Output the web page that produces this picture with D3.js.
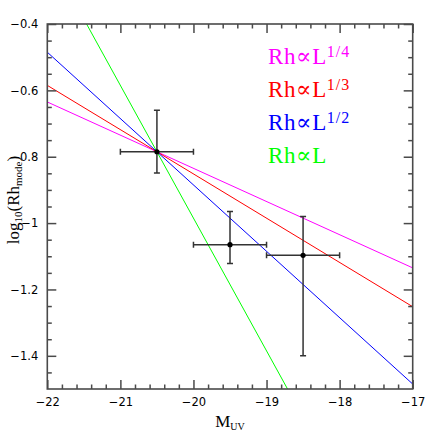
<!DOCTYPE html>
<html><head><meta charset="utf-8">
<script src="https://cdn.jsdelivr.net/npm/d3@7"></script>
<style>body{margin:0;background:#fff}svg{display:block}</style>
</head><body>
<svg id="c" width="436" height="436"></svg>
<script>
// data
const xTicks = [-22, -21, -20, -19, -18, -17];
const yTicks = [-1.4, -1.2, -1, -0.8, -0.6, -0.4];
const xMinorTicks = [-21.8, -21.6, -21.4, -21.2, -20.8, -20.6, -20.4, -20.2, -19.8, -19.6, -19.4, -19.2,
  -18.8, -18.6, -18.4, -18.2, -17.8, -17.6, -17.4, -17.2];
const yMinorTicks = [-1.45, -1.35, -1.3, -1.25, -1.15, -1.1, -1.05, -0.95, -0.9, -0.85, -0.75, -0.7,
  -0.65, -0.55, -0.5, -0.45];
const pointsX = [-20.5, -19.5, -18.5];
const pointsY = [-0.785, -1.065, -1.097];
const xErrLo = [0.5, 0.5, 0.5];
const xErrHi = [0.5, 0.5, 0.5];
const yErrUp = [0.125, 0.10, 0.117];
const yErrDown = [0.064, 0.057, 0.303];
const lineNames = ["1/4", "1/3", "1/2", ""];
const lineColors = ["#ff00ff", "#ff0000", "#0000ff", "#00ff00"];
const lineX = [-22, -17];
const lineYStart = [-0.635, -0.585, -0.485, -0.185];
const lineYEnd = [-1.135, -1.252, -1.485, -2.185];

const svg = d3.select("#c");
const L = 47.3, R = 412.7, T = 24, B = 389;
const x = d3.scaleLinear().domain([-22, -17]).range([L, R]);
const y = d3.scaleLinear().domain([-1.5, -0.4]).range([B, T]);
const axisColor = "#4a4a4a";
const fmt = v => String(v).replace("-", "\u2212");

svg.append("clipPath").attr("id", "plotclip").append("rect")
  .attr("x", L).attr("y", T).attr("width", R - L).attr("height", B - T);

// model lines
const lg = svg.append("g").attr("clip-path", "url(#plotclip)");
lineColors.forEach((c, i) => {
  lg.append("line")
    .attr("x1", x(lineX[0])).attr("y1", y(lineYStart[i]))
    .attr("x2", x(lineX[1])).attr("y2", y(lineYEnd[i]))
    .attr("stroke", c).attr("stroke-width", 1);
});

// frame
svg.append("rect").attr("x", L).attr("y", T).attr("width", R - L).attr("height", B - T)
  .attr("fill", "none").attr("stroke", axisColor).attr("stroke-width", 1.6);

// inward ticks on all four sides via d3 axes
function styleAxis(sel) {
  sel.select(".domain").remove();
  sel.selectAll(".tick line").attr("stroke", axisColor).attr("stroke-width", 1.5);
}
const ax = [
  [d3.axisBottom(x), `translate(0,${B})`, xTicks, xMinorTicks, true],
  [d3.axisTop(x), `translate(0,${T})`, xTicks, xMinorTicks, false],
  [d3.axisLeft(y), `translate(${L},0)`, yTicks, yMinorTicks, true],
  [d3.axisRight(y), `translate(${R},0)`, yTicks, yMinorTicks, false]
];
ax.forEach(([axis, tr, maj, min, lab]) => {
  const gMin = svg.append("g").attr("transform", tr)
    .call(axis.tickValues(min).tickSize(-4.5).tickFormat(() => ""));
  styleAxis(gMin);
  const gMaj = svg.append("g").attr("transform", tr)
    .call(axis.tickValues(maj).tickSize(-9).tickPadding(9).tickFormat(lab ? fmt : () => ""));
  styleAxis(gMaj);
});
svg.selectAll(".tick text").attr("fill", "#000")
  .style("font-family", "'DejaVu Sans', sans-serif").style("font-size", "11.5px");

// error bars and points
const eb = svg.append("g").attr("stroke", "#333").attr("stroke-width", 1.5);
pointsX.forEach((px, i) => {
  const cx = x(px), cy = y(pointsY[i]);
  const x0 = x(px - xErrLo[i]), x1 = x(px + xErrHi[i]);
  const y0 = y(pointsY[i] + yErrUp[i]), y1 = y(pointsY[i] - yErrDown[i]);
  eb.append("path").attr("fill", "none").attr("d",
    `M${x0},${cy}H${x1}M${x0},${cy - 3}V${cy + 3}M${x1},${cy - 3}V${cy + 3}` +
    `M${cx},${y0}V${y1}M${cx - 3},${y0}H${cx + 3}M${cx - 3},${y1}H${cx + 3}`);
  svg.append("circle").attr("cx", cx).attr("cy", cy).attr("r", 2.6).attr("fill", "#000");
});

// legend
const serif = "'Liberation Serif', 'DejaVu Serif', serif";
lineColors.forEach((c, i) => {
  const t = svg.append("text").attr("x", 268).attr("y", 63.5 + i * 33.3)
    .attr("fill", c).style("font-family", serif).style("font-size", "23px")
    .style("letter-spacing", "0.6px");
  t.append("tspan").text("Rh\u221DL");
  if (lineNames[i]) t.append("tspan").attr("dy", -7).style("font-size", "16px")
    .style("letter-spacing", "1px").text(lineNames[i]);
});

// axis labels
const xl = svg.append("text").attr("x", (L + R) / 2).attr("y", 426.5).attr("text-anchor", "middle")
  .style("font-family", serif).style("font-size", "17px");
xl.append("tspan").text("M");
xl.append("tspan").attr("dy", 3).style("font-size", "10px").text("UV");

const ylab = svg.append("text").attr("transform", `translate(18.5,200) rotate(-90)`)
  .attr("text-anchor", "middle").style("font-family", serif).style("font-size", "17px");
ylab.append("tspan").text("log");
ylab.append("tspan").attr("dy", 3.5).style("font-size", "11px").text("10");
ylab.append("tspan").attr("dy", -3.5).text("(Rh");
ylab.append("tspan").attr("dy", 3.5).style("font-size", "11px").text("mode");
ylab.append("tspan").attr("dy", -3.5).text(")");
</script>
</body></html>
